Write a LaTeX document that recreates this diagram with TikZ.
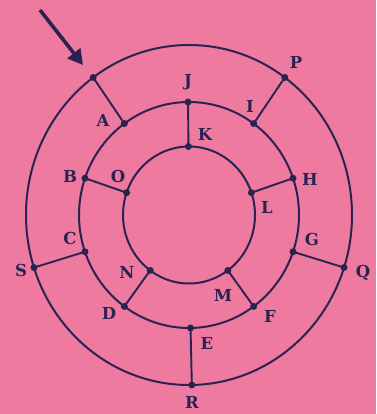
\documentclass[tikz,border=0pt]{standalone}
\usepackage{fontspec}
\newfontfamily\labfont{DejaVu Serif}
\usetikzlibrary{arrows.meta,calc}
\definecolor{bgpink}{HTML}{EE7A9F}
\definecolor{ink}{HTML}{2A2352}
\begin{document}
\begin{tikzpicture}[x=1pt,y=-1pt,
  ring/.style={draw=ink,line width=2pt},
  link/.style={draw=ink,line width=1.9pt},
  dot/.style={circle,fill=ink,inner sep=0pt,minimum size=7pt},
  lab/.style={text=ink,font=\labfont\fontsize{16.5}{16.5}\selectfont\bfseries,inner sep=0pt}]
\fill[bgpink] (0,0) rectangle (376,414);
\useasboundingbox (0,0) rectangle (376,414);
\coordinate (c) at (189,215);
% rings
\draw[ring] (c) ellipse [x radius=163, y radius=170];
\draw[ring] (c) ellipse [x radius=110, y radius=113];
\draw[ring] (c) ellipse [x radius=66, y radius=68.5];
% outer points
\node[dot] (Ao) at ({189+163*cos(126)},{215-170*sin(126)}) {};
\node[dot] (P) at ({189+163*cos(54)},{215-170*sin(54)}) {};
\node[dot] (S) at ({189+163*cos(198)},{215-170*sin(198)}) {};
\node[dot] (Q) at ({189+163*cos(-18)},{215-170*sin(-18)}) {};
\node[dot] (R) at ({189+163*cos(-89)},{215-170*sin(-89)}) {};
% middle points
\node[dot] (J) at ({189+110*cos(90.5)},{215-113*sin(90.5)}) {};
\node[dot] (A) at ({189+110*cos(126)},{215-113*sin(126)}) {};
\node[dot] (I) at ({189+110*cos(54)},{215-113*sin(54)}) {};
\node[dot] (B) at ({189+110*cos(161)},{215-113*sin(161)}) {};
\node[dot] (H) at ({189+110*cos(19)},{215-113*sin(19)}) {};
\node[dot] (C) at ({189+110*cos(199)},{215-113*sin(199)}) {};
\node[dot] (G) at ({189+110*cos(-19)},{215-113*sin(-19)}) {};
\node[dot] (D) at ({189+110*cos(234)},{215-113*sin(234)}) {};
\node[dot] (F) at ({189+110*cos(-54)},{215-113*sin(-54)}) {};
\node[dot] (E) at ({189+110*cos(-89.2)},{215-113*sin(-89.2)}) {};
% inner points
\node[dot] (K) at ({189+66*cos(90.5)},{215-68.5*sin(90.5)}) {};
\node[dot] (O) at ({189+66*cos(161)},{215-68.5*sin(161)}) {};
\node[dot] (L) at ({189+66*cos(19)},{215-68.5*sin(19)}) {};
\node[dot] (N) at ({189+66*cos(234)},{215-68.5*sin(234)}) {};
\node[dot] (M) at ({189+66*cos(-54)},{215-68.5*sin(-54)}) {};
% links
\draw[link] (Ao.center) -- (A.center);
\draw[link] (P.center) -- (I.center);
\draw[link] (J.center) -- (K.center);
\draw[link] (B.center) -- (O.center);
\draw[link] (H.center) -- (L.center);
\draw[link] (S.center) -- (C.center);
\draw[link] (G.center) -- (Q.center);
\draw[link] (D.center) -- (N.center);
\draw[link] (F.center) -- (M.center);
\draw[link] (E.center) -- (R.center);
% arrow
\coordinate (arrS) at (40,10);
\coordinate (arrE) at (83,65);
\draw[ink,line width=3.6pt,-{Triangle[length=15pt,width=16pt]}] (arrS) -- (arrE);
% labels
\node[lab] (tA) at (103,120) {A};
\node[lab] (tB) at (70,176) {B};
\node[lab] (tC) at (70,238) {C};
\node[lab] (tD) at (109,313) {D};
\node[lab] (tE) at (207,343) {E};
\node[lab] (tF) at (270,316) {F};
\node[lab] (tG) at (312,239) {G};
\node[lab] (tH) at (310,179) {H};
\node[lab] (tI) at (250,106) {I};
\node[lab] (tJ) at (188,82) {J};
\node[lab] (tK) at (205,134) {K};
\node[lab] (tL) at (267,207) {L};
\node[lab] (tM) at (223,295) {M};
\node[lab] (tN) at (127,272) {N};
\node[lab] (tO) at (118,176) {O};
\node[lab] (tP) at (296,62) {P};
\node[lab] (tQ) at (363,273) {Q};
\node[lab] (tR) at (192,402) {R};
\node[lab] (tS) at (21,270) {S};
\end{tikzpicture}
\end{document}
